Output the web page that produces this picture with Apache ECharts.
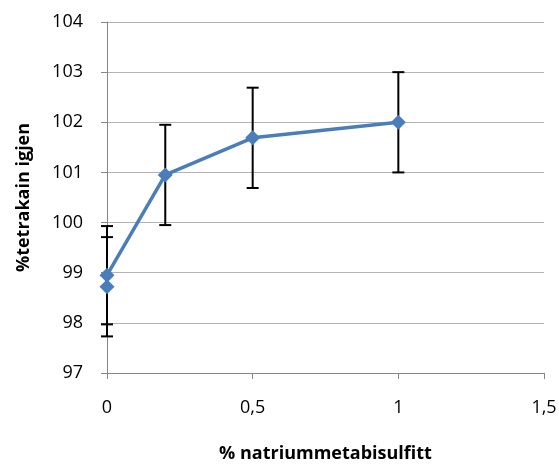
<!DOCTYPE html>
<html><head><meta charset="utf-8">
<script src="https://cdn.jsdelivr.net/npm/echarts@6/dist/echarts.min.js"></script>
<style>html,body{margin:0;padding:0;background:#fff}#c{width:559px;height:465px}</style>
</head><body><div id="c"></div>
<script>
var xValues = [0, 0, 0.2, 0.5, 1];
var yValues = [98.72, 98.95, 100.95, 101.69, 102.0];
var errLow = [0.99, 0.98, 1.0, 1.0, 1.0];
var errHigh = [0.99, 0.98, 1.0, 1.0, 1.0];
var xTitle = '% natriummetabisulfitt';
var yTitle = '%tetrakain igjen';

var lineData = xValues.map(function (x, i) { return [x, yValues[i]]; });
var errData = xValues.map(function (x, i) { return [x, yValues[i] - errLow[i], yValues[i] + errHigh[i]]; });

var font = '"Open Sans", sans-serif';
var chart = echarts.init(document.getElementById('c'));
chart.setOption({
  animation: false,
  backgroundColor: '#fff',
  grid: { left: 107, right: 15, top: 22, bottom: 92, containLabel: false, outerBoundsMode: 'none' },
  xAxis: {
    type: 'value', min: 0, max: 1.5, interval: 0.5,
    name: xTitle, nameLocation: 'middle', nameGap: 72,
    nameTextStyle: { fontFamily: font, fontSize: 18, fontWeight: 'bold', color: '#000' },
    axisLine: { show: true, lineStyle: { color: '#868686', width: 1 } },
    axisTick: { show: true, length: 6, lineStyle: { color: '#868686' } },
    splitLine: { show: false },
    axisLabel: { margin: 26, fontFamily: font, fontSize: 18, color: '#000',
      formatter: function (v) { return String(v).replace('.', ','); } }
  },
  yAxis: {
    type: 'value', min: 97, max: 104, interval: 1,
    name: yTitle, nameLocation: 'middle', nameGap: 74,
    nameTextStyle: { fontFamily: font, fontSize: 18, fontWeight: 'bold', color: '#000' },
    axisLine: { show: true, lineStyle: { color: '#868686', width: 1 } },
    axisTick: { show: true, length: 6, lineStyle: { color: '#868686' } },
    splitLine: { show: true, lineStyle: { color: '#b3b3b3', width: 1 } },
    axisLabel: { margin: 24, fontFamily: font, fontSize: 18, color: '#000' }
  },
  series: [
    {
      type: 'custom',
      data: errData,
      z: 3,
      renderItem: function (params, api) {
        var x = api.value(0);
        var lo = api.coord([x, api.value(1)]);
        var hi = api.coord([x, api.value(2)]);
        var w = 6;
        var st = { stroke: '#000', lineWidth: 2 };
        return { type: 'group', children: [
          { type: 'line', shape: { x1: lo[0], y1: lo[1], x2: hi[0], y2: hi[1] }, style: st },
          { type: 'line', shape: { x1: lo[0] - w, y1: lo[1], x2: lo[0] + w, y2: lo[1] }, style: st },
          { type: 'line', shape: { x1: hi[0] - w, y1: hi[1], x2: hi[0] + w, y2: hi[1] }, style: st }
        ]};
      }
    },
    {
      type: 'line',
      data: lineData,
      z: 4,
      symbol: 'diamond',
      symbolSize: 15,
      lineStyle: { color: '#4a7ebb', width: 3.5 },
      itemStyle: { color: '#4a7ebb' }
    }
  ]
});
</script></body></html>
